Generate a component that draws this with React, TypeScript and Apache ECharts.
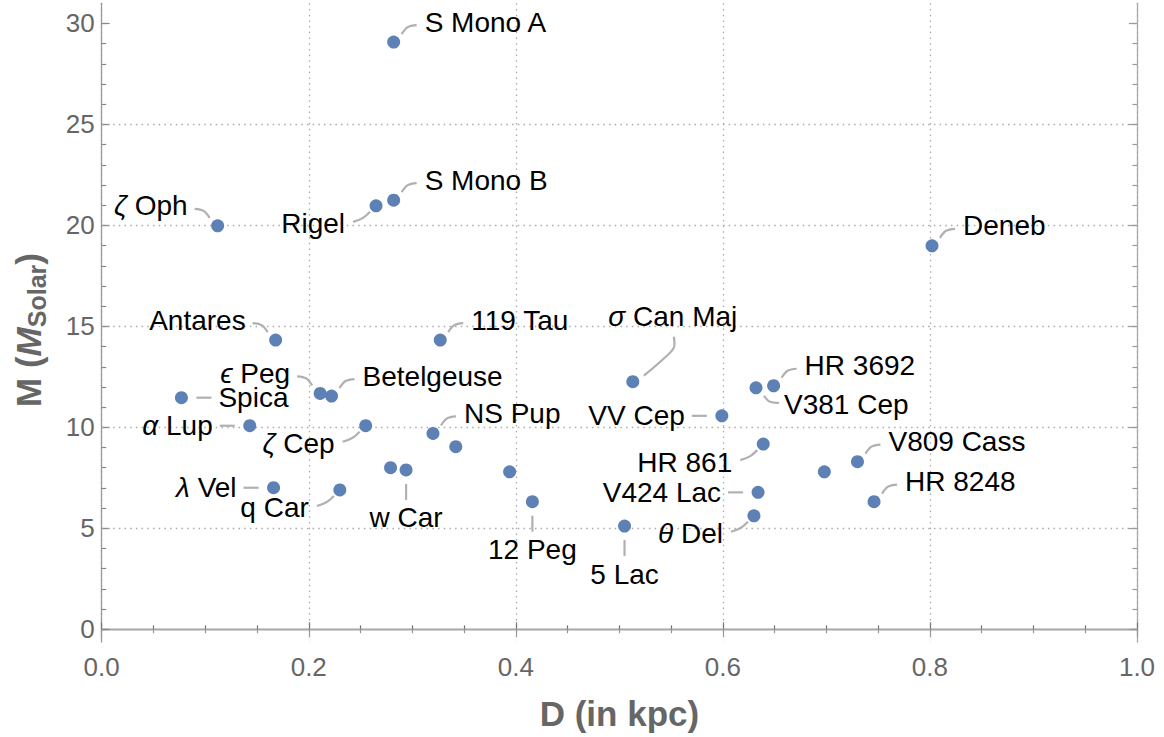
import React, { useEffect, useRef } from "react";
import * as echarts from "echarts";

// ---------- data ----------
const starNames = [
  "S Mono A", "S Mono B", "Rigel", "ζ Oph", "Deneb", "Antares", "119 Tau", "ϵ Peg",
  "Betelgeuse", "Spica", "α Lup", "ζ Cep", "NS Pup", "", "λ Vel", "q Car", "",
  "w Car", "", "12 Peg", "5 Lac", "σ Can Maj", "VV Cep", "V381 Cep", "HR 3692",
  "HR 861", "V424 Lac", "θ Del", "", "V809 Cass", "HR 8248",
];
const distanceKpc = [
  0.282, 0.282, 0.265, 0.112, 0.802, 0.168, 0.327, 0.211,
  0.222, 0.077, 0.143, 0.255, 0.320, 0.342, 0.166, 0.230, 0.279,
  0.294, 0.394, 0.416, 0.505, 0.513, 0.599, 0.632, 0.649,
  0.639, 0.634, 0.630, 0.698, 0.730, 0.746,
];
const massSolar = [
  29.08, 21.25, 20.97, 19.98, 18.99, 14.32, 14.32, 11.68,
  11.55, 11.47, 10.08, 10.08, 9.70, 9.04, 7.01, 6.90, 8.00,
  7.89, 7.80, 6.32, 5.11, 12.26, 10.57, 11.96, 12.06,
  9.17, 6.78, 5.62, 7.80, 8.30, 6.32,
];
const xTicks = [0, 0.2, 0.4, 0.6, 0.8, 1.0];
const yTicks = [0, 5, 10, 15, 20, 25, 30];
const yMinorTicks = Array.from({ length: 31 }, (_, i) => i);
const yGrid = [5, 10, 15, 20, 25];

// label placement per star (layout only)
const labelSide = [
  "ur", "ur", "ll", "ul", "ur", "ul", "ur", "ul",
  "ur", "r", "l", "ll", "ur", "", "l", "ll", "",
  "b", "", "b", "b", "up", "l", "lr", "ur",
  "ll", "l", "ll", "", "ur", "ur",
];

type Place = { leader: number[][]; tx: number; ty: number; align: string };
const PLACES: Record<string, Place> = {
  ur: { leader: [[8, -8], [14, -15], [23, -17]], tx: 31, ty: -20, align: "left" },
  ul: { leader: [[-8, -8], [-14, -15], [-23, -17]], tx: -30, ty: -20, align: "right" },
  lr: { leader: [[8, 8], [14, 14], [23, 15]], tx: 28, ty: 17, align: "left" },
  ll: { leader: [[-6, 6], [-13, 12], [-23, 16]], tx: -31, ty: 18, align: "right" },
  r: { leader: [[15, 0], [30, 0]], tx: 37, ty: 0, align: "left" },
  l: { leader: [[-15, 0], [-30, 0]], tx: -37, ty: 0, align: "right" },
  b: { leader: [[0, 14], [0, 30]], tx: 0, ty: 48, align: "center" },
  up: { leader: [[11, -6], [33, -25], [41, -34], [41, -45]], tx: 40, ty: -65, align: "center" },
};

const FONT = "'Liberation Sans', Arial, sans-serif";
const AXIS_GRAY = "#666";

function richLabel(name: string) {
  const first = name.charAt(0);
  if (/[\u0370-\u03FF]/.test(first)) {
    return `{g|${first}}{n|${name.slice(1)}}`;
  }
  return `{n|${name}}`;
}

export default function App() {
  const ref = useRef<HTMLDivElement>(null);
  useEffect(() => {
    if (!ref.current) return;
    const chart = echarts.init(ref.current, null, { renderer: "svg" });

    const points = distanceKpc.map((d, i) => [d, massSolar[i]]);
    const labelData = starNames
      .map((n, i) => [distanceKpc[i], massSolar[i], i])
      .filter((r) => starNames[r[2] as number] !== "");

    const commonX = {
      type: "value",
      min: xTicks[0],
      max: xTicks[xTicks.length - 1],
      interval: 0.2,
    };
    const yRange = { type: "value", min: -0.63, max: 31 };

    const option: any = {
      animation: false,
      grid: { left: 101.7, right: 27, top: 3.3, bottom: 95, containLabel: false },
      xAxis: [
        {
          ...commonX,
          position: "bottom",
          axisLine: { show: true, lineStyle: { color: "#777", width: 1.3 } },
          axisTick: { show: true, inside: true, length: 7, lineStyle: { color: "#777", width: 1.2 } },
          minorTick: { show: true, splitNumber: 4, length: 4, lineStyle: { color: "#777", width: 1.2 } },
          axisLabel: {
            show: true,
            margin: 12,
            fontSize: 26,
            fontFamily: FONT,
            color: AXIS_GRAY,
            showMinLabel: true,
            showMaxLabel: true,
            formatter: (v: number) => v.toFixed(1),
          },
          splitLine: { show: true, lineStyle: { color: "#aaa", width: 1.3, type: [1.5, 4.2] } },
        },
        {
          ...commonX,
          position: "top",
          axisLine: { show: true, lineStyle: { color: "#aaa", width: 1.3 } },
          axisTick: { show: true, inside: true, length: 7, lineStyle: { color: "#999", width: 1.2 } },
          minorTick: { show: true, splitNumber: 4, length: 4, lineStyle: { color: "#999", width: 1.2 } },
          axisLabel: { show: false },
          splitLine: { show: false },
        },
      ],
      yAxis: [
        {
          ...yRange,
          position: "left",
          axisLine: { show: true, lineStyle: { color: "#999", width: 1.3 } },
          axisTick: { show: true, inside: true, length: 8, customValues: yTicks, lineStyle: { color: "#888", width: 1.2 } },
          axisLabel: {
            show: true,
            margin: 7,
            fontSize: 26,
            fontFamily: FONT,
            color: AXIS_GRAY,
            customValues: yTicks,
          },
          splitLine: { show: false },
        },
        {
          ...yRange,
          position: "left",
          axisLine: { show: false },
          axisTick: { show: true, inside: true, length: 4.5, customValues: yMinorTicks, lineStyle: { color: "#888", width: 1.2 } },
          axisLabel: { show: false },
          splitLine: { show: false },
        },
        {
          ...yRange,
          position: "right",
          axisLine: { show: true, lineStyle: { color: "#aaa", width: 1.3 } },
          axisTick: { show: true, inside: true, length: 8, customValues: yTicks, lineStyle: { color: "#999", width: 1.2 } },
          axisLabel: { show: false },
          splitLine: { show: false },
        },
        {
          ...yRange,
          position: "right",
          axisLine: { show: false },
          axisTick: { show: true, inside: true, length: 4.5, customValues: yMinorTicks, lineStyle: { color: "#999", width: 1.2 } },
          axisLabel: { show: false },
          splitLine: { show: false },
        },
      ],
      graphic: [
        {
          type: "text",
          x: 619.4,
          y: 713,
          style: {
            text: "D (in kpc)",
            fontSize: 35,
            fontWeight: "bold",
            fontFamily: FONT,
            fill: AXIS_GRAY,
            align: "center",
            verticalAlign: "middle",
          },
        },
        {
          type: "text",
          x: 28,
          y: 330,
          rotation: Math.PI / 2,
          style: {
            text: "{b|M (}{i|M}{s|Solar}{b|)}",
            align: "center",
            verticalAlign: "middle",
            rich: {
              b: { fontSize: 35, fontWeight: "bold", fontFamily: FONT, fill: AXIS_GRAY },
              i: { fontSize: 35, fontWeight: "bold", fontStyle: "italic", fontFamily: FONT, fill: AXIS_GRAY },
              s: { fontSize: 25, fontWeight: "bold", fontFamily: FONT, fill: AXIS_GRAY, padding: [18, 0, 0, 0] },
            },
          },
        },
      ],
      series: [
        {
          type: "scatter",
          xAxisIndex: 0,
          yAxisIndex: 0,
          data: points,
          symbol: "circle",
          symbolSize: 13,
          itemStyle: { color: "#5E81B5", opacity: 1 },
          z: 5,
          markLine: {
            silent: true,
            symbol: "none",
            label: { show: false },
            lineStyle: { color: "#aaa", width: 1.3, type: [1.5, 4.2] },
            data: yGrid.map((v) => ({ yAxis: v })),
            z: 1,
          },
        },
        {
          type: "custom",
          xAxisIndex: 0,
          yAxisIndex: 0,
          data: labelData,
          clip: false,
          z: 4,
          renderItem: (params: any, api: any) => {
            const idx = api.value(2);
            const p = api.coord([api.value(0), api.value(1)]);
            const pl = PLACES[labelSide[idx]];
            const tokenBase = { fontSize: 28, fontFamily: FONT, fill: "#000" };
            return {
              type: "group",
              children: [
                {
                  type: "polyline",
                  shape: {
                    points: pl.leader.map(([dx, dy]) => [p[0] + dx, p[1] + dy]),
                    smooth: 0.35,
                  },
                  style: { stroke: "#b0b0b0", lineWidth: 2.2, fill: null },
                },
                {
                  type: "text",
                  x: p[0] + pl.tx,
                  y: p[1] + pl.ty,
                  style: {
                    text: richLabel(starNames[idx]),
                    align: pl.align,
                    verticalAlign: "middle",
                    rich: {
                      n: { ...tokenBase },
                      g: { ...tokenBase, fontStyle: "italic" },
                    },
                  },
                },
              ],
            };
          },
        },
      ],
    };

    chart.setOption(option);
    return () => chart.dispose();
  }, []);

  return (
    <div
      ref={ref}
      style={{ position: "fixed", left: 0, top: 0, width: 1164, height: 737, background: "#fff" }}
    />
  );
}
